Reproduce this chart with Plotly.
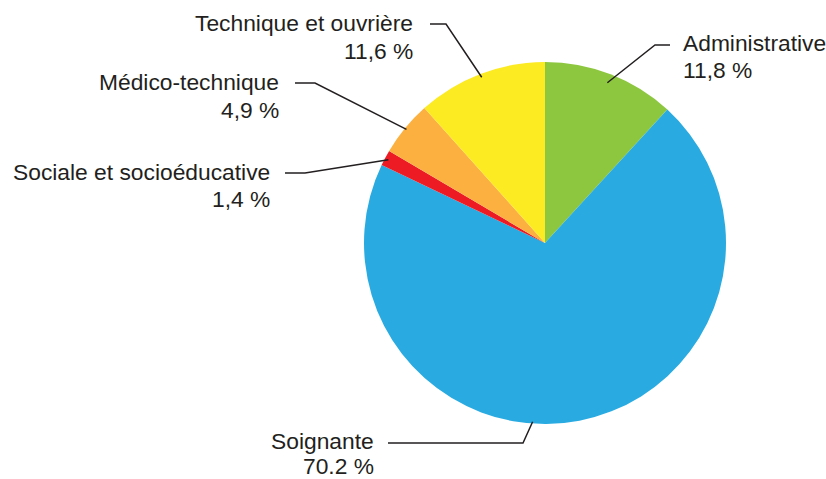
import math
import plotly.graph_objects as go

# ---- data ----
categories = ["Administrative", "Soignante", "Sociale et socioéducative",
              "Médico-technique", "Technique et ouvrière"]
values = [11.8, 70.2, 1.4, 4.9, 11.6]
value_labels = ["11,8 %", "70.2 %", "1,4 %", "4,9 %", "11,6 %"]
colors = ["#8DC63F", "#29ABE2", "#ED1C24", "#FBB040", "#FCEA22"]

W, H = 826, 479
CX, CY, R = 545, 243, 181  # pie layout in pixels

# label layout (pixels)
label_layout = {
    "Administrative": dict(tx=681, ny=43, vy=70, side="left", hx0=670, hx1=655, hy=45, frac=None, rf=0.95),
    "Soignante": dict(tx=376, ny=441, vy=466, side="right", hx0=388, hx1=523, hy=443, frac=0.511, rf=0.99),
    "Sociale et socioéducative": dict(tx=272, ny=172, vy=199, side="right", hx0=285, hx1=305, hy=173, frac=None, rf=0.98),
    "Médico-technique": dict(tx=281, ny=82, vy=110, side="right", hx0=295, hx1=315, hy=83, frac=None, rf=0.99),
    "Technique et ouvrière": dict(tx=415, ny=23, vy=51, side="right", hx0=430, hx1=446, hy=24, frac=None, rf=0.98),
}

def px(x):
    return x / W

def py(y):
    return 1 - y / H

fig = go.Figure(go.Pie(
    labels=categories, values=values, sort=False, direction="clockwise", rotation=0,
    marker=dict(colors=colors, line=dict(width=0)),
    textinfo="none", hoverinfo="label+percent", showlegend=False,
    domain=dict(x=[px(CX - R), px(CX + R)], y=[py(CY + R), py(CY - R)]),
))

total = sum(values)
cum = 0.0
annotations = []
shapes = []
font = dict(family="Liberation Sans, Arial, sans-serif", size=22.8, color="#231F20")
for cat, v, vl in zip(categories, values, value_labels):
    mid = (cum + v / 2) / total
    cum += v
    L = label_layout[cat]
    f = L["frac"] if L["frac"] is not None else mid
    ang = 2 * math.pi * f
    ex = CX + R * L["rf"] * math.sin(ang)
    ey = CY - R * L["rf"] * math.cos(ang)
    path = f"M {px(L['hx0'])},{py(L['hy'])} L {px(L['hx1'])},{py(L['hy'])} L {px(ex)},{py(ey)}"
    shapes.append(dict(type="path", xref="paper", yref="paper", path=path,
                       line=dict(color="#231F20", width=1.5)))
    anchor = "right" if L["side"] == "right" else "left"
    for txt, yy in ((cat, L["ny"]), (vl, L["vy"])):
        annotations.append(dict(text=txt, x=px(L["tx"]), y=py(yy), xref="paper", yref="paper",
                                xanchor=anchor, yanchor="middle", showarrow=False, font=font))

fig.update_layout(
    width=W, height=H, margin=dict(l=0, r=0, t=0, b=0),
    paper_bgcolor="white", plot_bgcolor="white",
    annotations=annotations, shapes=shapes,
)
fig.write_html("out.html", config={"displayModeBar": False},
               post_script="document.body.style.margin='0';document.body.style.overflow='hidden';")
